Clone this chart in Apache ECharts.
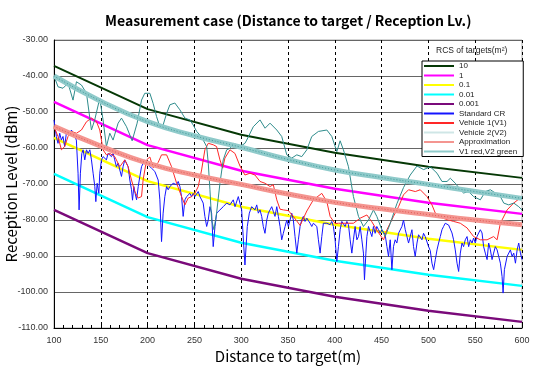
<!DOCTYPE html>
<html>
<head>
<meta charset="utf-8">
<script src="https://cdn.jsdelivr.net/npm/echarts@6/dist/echarts.min.js"></script>
<style>
html, body { margin: 0; padding: 0; background: #fff; }
#chart { width: 535px; height: 377px; }
</style>
</head>
<body>
<div id="chart"></div>
<script>
// theoretical RCS curves (knots every 100 m)
const rcsDist = [100, 200, 300, 400, 500, 600];
const rcs10 = [-37.2, -49.2, -56.3, -61.3, -65.2, -68.3];
const rcs1 = [-47.2, -59.2, -66.3, -71.3, -75.2, -78.3];
const rcs01 = [-57.2, -69.2, -76.3, -81.3, -85.2, -88.3];
const rcs001 = [-67.2, -79.2, -86.3, -91.3, -95.2, -98.3];
const rcs0001 = [-77.2, -89.2, -96.3, -101.3, -105.2, -108.3];

// fitted curves
const fitDist = [100, 150, 200, 250, 300, 350, 400, 450, 500, 550, 600];
const approxLevel = [-54, -59.5, -64.2, -67.5, -70.1, -72.8, -75.1, -76.9, -78.5, -80, -81.3];
const v1v2Level = [-40, -47, -52.7, -56.6, -59.8, -63.2, -66.1, -68.2, -70.1, -72.1, -74];

// measured [distance, level]
const standardCR = [[100,-52.2],[102.5,-56.8],[104.3,-58.7],[106.1,-55.9],[107.9,-57.8],[109.6,-56.8],[111.4,-59.6],[113.2,-55.9],[115,-55],[116.8,-56.4],[118.6,-55],[120.3,-55.9],[122.1,-55.4],[123.9,-57.8],[125.7,-67],[126.8,-77.2],[128.2,-67],[129.7,-61.5],[131.1,-60.5],[132.9,-63.3],[134.7,-60.5],[136.5,-61.5],[138.3,-60.5],[140,-63.3],[141.8,-67],[143.6,-70.7],[144.7,-74.9],[146.1,-69.8],[147.9,-72.6],[148.9,-67],[150.7,-63.3],[152.5,-62.4],[154.2,-61.9],[156,-63.3],[157.8,-61.5],[159.6,-61.9],[161.4,-62.4],[163.2,-61.5],[164.9,-63.3],[166.7,-65.2],[168.5,-64.2],[170.3,-66.1],[172.1,-67.9],[173.8,-65.2],[175.6,-63.3],[177.4,-64.2],[179.2,-65.2],[181,-68.9],[182.8,-71.6],[183.9,-74.5],[185.3,-70.7],[186.7,-72.6],[188.2,-74.4],[190,-70.7],[191.7,-67.9],[193.5,-65.2],[195.3,-64.2],[197.1,-63.3],[198.9,-63.8],
[200.6,-64.7],[204.2,-65.6],[207.7,-66.5],[211.3,-68.9],[213.1,-74.4],[214.9,-86],[216.6,-78.1],[218.4,-73.5],[220.3,-70.7],[222,-71.6],[223.8,-70.7],[227.3,-69.8],[231,-70.2],[232.7,-69.3],[234.5,-70.7],[236.3,-73.5],[238,-79],[239.9,-74.4],[241.7,-73.5],[245.2,-72.6],[247,-73.5],[248.7,-72.6],[250.5,-73.5],[254.1,-72.1],[255.9,-73.5],[257.7,-74.4],[259.4,-75.3],[261.2,-79],[263.1,-81.8],[264.8,-80],[266.6,-76.3],[268.4,-78.1],[270.1,-87.4],[272,-81.8],[273.8,-78.1],[277.3,-77.2],[280.8,-76.3],[284.5,-75.3],[288,-75.8],[291.5,-74.4],[293.4,-76.3],[296.9,-73.5],[300.5,-77.2],[302.2,-85],[304,-92.5],[306.5,-81.8],
[308.7,-78.1],[311.2,-76.3],[312.9,-76.7],[314.7,-77.2],[316.6,-75.8],[318.3,-78.1],[320.1,-77.2],[321.9,-79],[323.6,-81.8],[325.4,-83.7],[327.3,-80],[329,-78.1],[330.8,-77.2],[332.6,-76.3],[334.3,-77.6],[336.1,-79],[338,-76.3],[339.7,-79],[341.5,-81.8],[343.3,-85.5],[345,-83.7],[346.9,-81.8],[348.7,-80],[350.4,-81.8],[352.2,-80],[354,-78.1],[355.7,-80],[357.5,-84.6],[359.4,-89.2],[361.1,-85.5],[362.9,-81.8],[364.7,-80],[366.4,-79],[368.2,-80.4],[370.1,-79.5],[371.8,-80],[373.6,-80.9],[375.4,-81.8],[377.1,-80.9],[380.8,-81.8],[382.5,-85.5],[384.3,-89.2],[386.1,-84.6],[387.8,-80.9],[389.7,-80.4],[391.5,-80.9],[393.2,-80.4],[395,-81.3],[396.8,-80.4],[398.5,-81.8],[400.3,-85.5],[402.2,-91.5],[403.9,-87.4],[405.7,-82.7],
[407.5,-80.4],[409.2,-80.9],[411,-81.8],[412.9,-80.4],[414.6,-81.3],[416.4,-85.5],[418.2,-89.2],[419.9,-85.5],[421.7,-81.8],[423.6,-85.5],[425.3,-84.6],[427.1,-81.8],[428.9,-85.5],[430.6,-89.2],[431.7,-96.6],[433.2,-89.2],[434.3,-84.6],[436,-81.8],[437.8,-83.2],[439.6,-84.6],[441.3,-81.8],[443.1,-83.7],[444.9,-81.8],[446.7,-82.7],[448.5,-83.7],[450.3,-82.7],[452.1,-83.2],[453.8,-84.1],[455.7,-87.4],[457.4,-90.1],[459.2,-85.5],[461,-93.8],[462.7,-87.4],[464.5,-85.5],[466.3,-86.4],[468.1,-83.7],[469.9,-83.7],[471.7,-81.8],[473.4,-80],[475.3,-82.7],[477.1,-84.6],[478.8,-86.4],[480.6,-84.6],[482.4,-82.7],[484.1,-87.4],[485.9,-90.1],[487.8,-86.4],[489.5,-84.1],[491.3,-84.6],[493.1,-85.5],[494.8,-83.7],[496.6,-84.6],[498.5,-84.6],[500.2,-87.4],
[502,-88.5],[503.8,-92],[505.6,-93.8],[507.4,-91],[509.2,-88.3],[510.9,-86.4],[512.7,-84.6],[514.5,-82.7],[516.2,-81.8],[518,-80.9],[519.8,-80.4],[521.6,-81.4],[523.4,-80.9],[525.2,-83.6],[526.9,-85.5],[528.7,-88.3],[530.6,-92],[532.3,-94.3],[534.1,-89.2],[535.9,-86.4],[537.6,-87.4],[539.4,-85.5],[541.3,-84.6],[543,-87.4],[544.8,-85.5],[546.6,-86.4],[548.3,-85],[550.1,-86.4],[551.9,-84.6],[553.7,-83.6],[555.5,-82.7],[557.3,-83.6],[559,-87.4],[560.8,-89.2],[562.7,-91],[564.4,-86.4],[566.2,-88.3],[568,-91],[569.7,-89.2],[571.5,-87.4],[573.4,-88.3],[575.1,-90.1],[576.9,-92],[578.7,-95.7],[579.8,-100.3],[581.2,-93.8],[584.1,-90.1],[587.6,-88.3],[589.4,-90.1],[591.2,-89.2],[593,-92],[594.8,-88.3],[596.5,-86.4],[598.3,-89.2],[600,-91]];

const vehicle1 = [[100,-54.1],[104.3,-56.8],[107.9,-60.5],[111.4,-59.6],[115,-56.8],[118.6,-55.4],[124,-55.9],[129.3,-55],[134.7,-52.7],[140,-51.7],[145.4,-52.7],[148.9,-55],[152.4,-60.5],[156,-61.9],[159.6,-61.5],[164.9,-62.4],[170.3,-65.2],[175.6,-63.3],[179.2,-65.2],[182.8,-68.9],[186.3,-72.1],[189.9,-73.9],[193.5,-73.5],[195.2,-68.9],[198.9,-63.3],[202.4,-62.5],[206,-65.5],[211.3,-64],[214.9,-61.9],[220.3,-61.9],[225.6,-65.2],[231,-69.8],[236.3,-73.5],[239.9,-75.8],[243.4,-73.9],[247,-73.5],[250.5,-72.6],[254.1,-70.7],[257.7,-66.1],[261.2,-60.5],[264.8,-58.7],[270.1,-59.1],[273.7,-59.6],[277.3,-63.3],[280.2,-65.6],[282.6,-62.8],[288,-60.5],[293.3,-61.5],[298.7,-65],[304,-67.5],[309.4,-67],[314.7,-67.5],[320.1,-69.3],[325.5,-69.8],[330.8,-70.7],[334.3,-70.2],[338,-74.4],[341.5,-77],[345,-77.2],[350.4,-77.4],[355.7,-79],[362.9,-81.5],[370.1,-77.5],[377.1,-74.4],[386.1,-72.6],[391.5,-74.9],[395,-79],[400.3,-81],[403.9,-80.9],[412.9,-80.9],[419.9,-80.9],[427.1,-79.5],[434.3,-78.6],[439.6,-80.5],[445.3,-83],[452.1,-85.5],[455.7,-82.7],[462.7,-79],[468.1,-76.3],[473.4,-73],[478.8,-71.6],[486,-72.1],[491.3,-71.6],[498.5,-73.5],[503.8,-75.8],[507.4,-78.1],[512.7,-79.2],[519.9,-79.9],[527,-80.4],[534.1,-80.9],[541.3,-82.2],[548.3,-84.6],[555.5,-85.5],[562.7,-85.5],[569.7,-84.6],[573.4,-85.5],[576.9,-80.9],[584.1,-77.2],[591.1,-75.3],[600,-73.5]];

const vehicle2 = [[100,-40],[104.3,-43],[109.6,-43.4],[115,-42],[120.3,-46.7],[124,-41.6],[129.3,-42.5],[134.7,-44.8],[140,-55],[143.5,-52.2],[148.9,-46.2],[152.4,-52.2],[156,-59.6],[159.6,-55.9],[163.1,-57.8],[168.5,-53.1],[172.1,-51.7],[177.5,-54.1],[183.5,-58],[188.8,-53.1],[193.5,-46.7],[197,-44.8],[202.4,-44.8],[205.9,-47.6],[209.6,-51.3],[213.1,-54.1],[216.6,-53.6],[220.3,-50.4],[223.8,-48],[229.1,-47.5],[234.5,-49.4],[239.9,-51.7],[245.2,-52.2],[248.7,-53.6],[252.4,-55.4],[255.9,-56.4],[259.4,-57.8],[263.1,-59.6],[264.8,-64.2],[266.6,-71.6],[268.4,-80],[270.9,-82.7],[273.7,-78.1],[277.3,-69.8],[280.8,-63.3],[284.5,-60.5],[288,-60.1],[291.5,-58.7],[295.2,-59.1],[298.7,-59.6],[304,-58.7],[305.9,-57.8],[312.9,-54.1],[320.1,-52.2],[325.5,-54.5],[330.8,-53.1],[338,-55],[343.3,-56.8],[348.7,-61.9],[354,-62.8],[359.4,-61.9],[364.7,-62.4],[370.1,-60.5],[375.4,-56.8],[382.5,-55.4],[391.5,-55],[396.8,-56.8],[402.2,-61],[405.7,-58],[409.2,-60.5],[414.6,-65.2],[419.9,-73.5],[425.3,-79],[430.6,-81.8],[436,-80],[441.3,-77.2],[444.9,-79],[450.3,-82.7],[453.8,-84.6],[459.2,-81],[466.3,-75.5],[473.4,-71],[480.6,-67.5],[487.8,-65],[494.9,-66],[502,-65.2],[509.2,-67],[514.5,-69.3],[519.9,-69.3],[523.4,-68.4],[528.8,-69.8],[534.1,-71.6],[537.6,-72.5],[543,-72.1],[548.3,-73.5],[555.5,-74.4],[560.8,-72.1],[566.2,-71.6],[571.5,-72.5],[576.9,-73.5],[580.5,-75.3],[585.8,-75.8],[591.2,-75.3],[596.5,-76.3],[600,-77.2]];

const xTicks = { min: 100, max: 600, step: 50 };
const yTicks = { min: -110, max: -30, step: 10 };

function pairs(xs, ys) {
  return xs.map((x, i) => [x, ys[i]]);
}

function curve(name, data, color, width, extra) {
  return Object.assign({
    name: name,
    type: 'line',
    data: data,
    symbol: 'none',
    lineStyle: { color: color, width: width },
    itemStyle: { color: color }
  }, extra || {});
}

let myChart = echarts.init(document.getElementById('chart'));
let option = {
  animation: false,
  backgroundColor: '#fff',
  title: [
    {
      text: 'Measurement case (Distance to target / Reception Lv.)',
      left: 100, top: 9,
      textStyle: { fontFamily: 'Noto Sans CJK JP', fontWeight: 'bold', fontSize: 14, color: '#000' }
    },
    {
      text: 'RCS of targets(m²)',
      left: 431, top: 41,
      textStyle: { fontFamily: 'Liberation Sans', fontWeight: 'normal', fontSize: 8.5, color: '#222' }
    }
  ],
  legend: {
    orient: 'vertical',
    left: 422, top: 61,
    itemWidth: 30, itemHeight: 8, itemGap: 1.5, itemTextGap: 3,
    padding: [1, 6, 1, 1],
    backgroundColor: '#fff',
    borderColor: '#000', borderWidth: 1, borderRadius: 0,
    itemStyle: { opacity: 0 },
    textStyle: { fontFamily: 'Liberation Sans', fontSize: 8, lineHeight: 8, color: '#222' },
    data: ['10', '1', '0.1', '0.01', '0.001', 'Standard CR', 'Vehicle 1(V1)',
      { name: 'Vehicle 2(V2)', lineStyle: { color: '#cfe6e6' } },
      'Approximation', 'V1 red,V2 green']
  },
  grid: {
    left: 54, right: 13, top: 40, bottom: 49,
    outerBoundsMode: 'none',
    show: true, borderColor: '#aaa', borderWidth: 1
  },
  xAxis: {
    type: 'value',
    min: xTicks.min, max: xTicks.max, interval: xTicks.step,
    name: 'Distance to target(m)',
    nameLocation: 'middle', nameGap: 21, nameMoveOverlap: false,
    nameTextStyle: { fontFamily: 'Noto Sans CJK JP', fontSize: 15, color: '#000' },
    axisLine: { lineStyle: { color: '#000' } },
    axisTick: { show: true, inside: true, length: 3, lineStyle: { color: '#000' } },
    minorTick: { show: true, splitNumber: 5, length: 3, lineStyle: { color: '#000' } },
    axisLabel: { fontFamily: 'Liberation Sans', fontSize: 9, color: '#333', margin: 8 },
    splitLine: { show: true, lineStyle: { color: '#000', type: [3, 3], width: 1 } }
  },
  yAxis: {
    type: 'value',
    min: yTicks.min, max: yTicks.max, interval: yTicks.step,
    name: 'Reception Level (dBm)',
    nameLocation: 'middle', nameGap: 35, nameMoveOverlap: false,
    nameTextStyle: { fontFamily: 'Noto Sans CJK JP', fontSize: 15, color: '#000' },
    axisLine: { show: true, lineStyle: { color: '#000' } },
    axisTick: { show: false },
    axisLabel: {
      fontFamily: 'Liberation Sans', fontSize: 9, color: '#333', margin: 6,
      formatter: v => v.toFixed(2)
    },
    splitLine: { show: true, lineStyle: { color: '#666', width: 1 } }
  },
  series: [
    curve('10', pairs(rcsDist, rcs10), '#053805', 2),
    curve('1', pairs(rcsDist, rcs1), '#ff00ff', 2.5),
    curve('0.1', pairs(rcsDist, rcs01), '#ffff00', 2.5),
    curve('0.01', pairs(rcsDist, rcs001), '#00ffff', 2.5),
    curve('0.001', pairs(rcsDist, rcs0001), '#7a0a7a', 2.5),
    curve('Standard CR', standardCR, '#1414ff', 1),
    curve('Vehicle 1(V1)', vehicle1, '#ff2828', 1),
    curve('Vehicle 2(V2)', vehicle2, '#2e8c8c', 1),
    curve('Approximation', pairs(fitDist, approxLevel), '#f49590', 5, { smooth: true }),
    curve('approx-tex', pairs(fitDist, approxLevel), '#e05a55', 1, { smooth: true, silent: true,
      lineStyle: { color: '#e05a55', width: 1, type: [1, 2] } }),
    curve('V1 red,V2 green', pairs(fitDist, v1v2Level), '#8fcaca', 5, { smooth: true }),
    curve('v1v2-tex', pairs(fitDist, v1v2Level), '#3f9a9a', 1, { smooth: true, silent: true,
      lineStyle: { color: '#3f9a9a', width: 1, type: [1, 2] } })
  ]
};
myChart.setOption(option);
</script>
</body>
</html>
